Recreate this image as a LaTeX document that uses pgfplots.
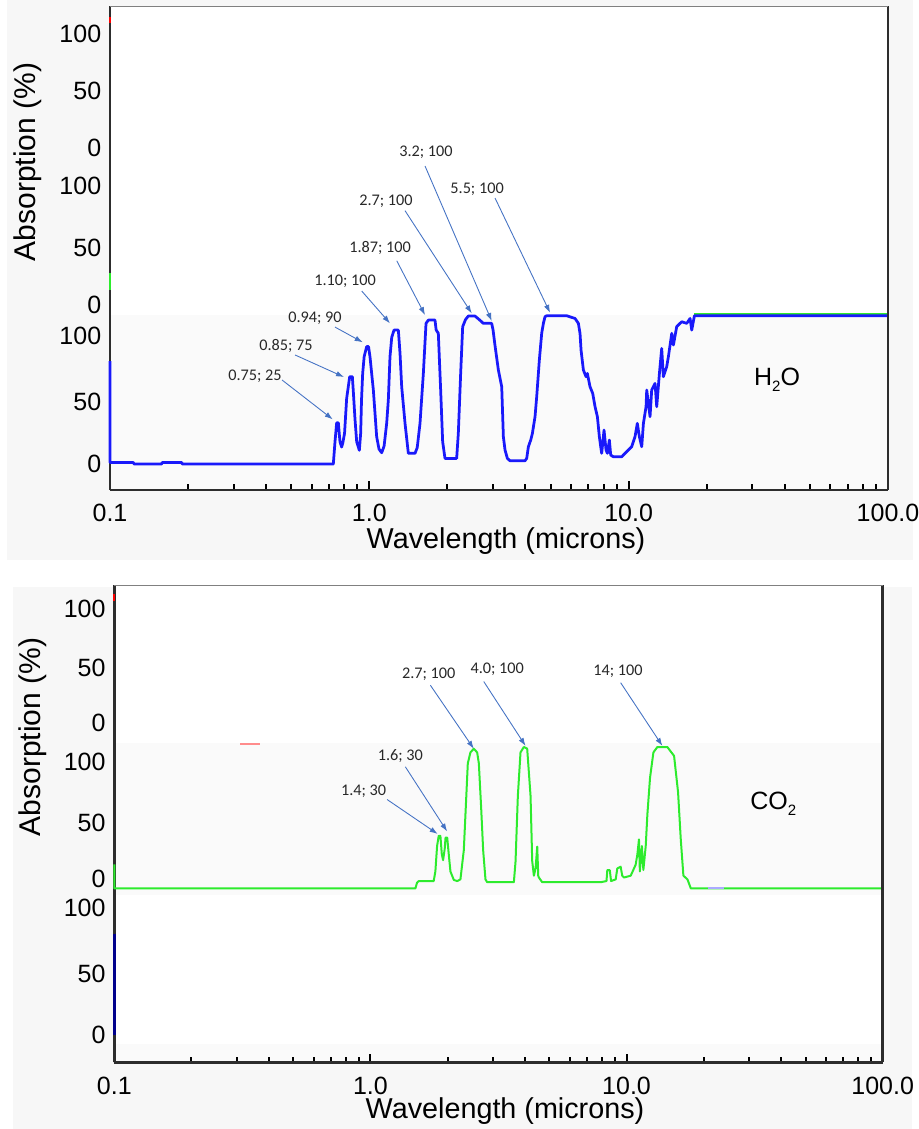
\documentclass[border=0pt]{standalone}
\usepackage{fontspec}
\setmainfont{Liberation Sans}
\newfontfamily\annofont{Carlito}
\usepackage{pgfplots}
\pgfplotsset{compat=1.18}
\usetikzlibrary{arrows.meta}

\definecolor{bgout}{RGB}{247,247,247}
\definecolor{bgband}{RGB}{250,250,250}
\definecolor{waterblue}{RGB}{25,25,250}
\definecolor{co2green}{RGB}{45,235,45}
\definecolor{arrowblue}{RGB}{68,114,196}
\definecolor{annotext}{RGB}{40,40,40}
\definecolor{axisgray}{RGB}{45,45,45}
\definecolor{navyline}{RGB}{0,0,140}
\definecolor{lavender}{RGB}{170,170,255}

\tikzset{
  anno/.style={font=\annofont\fontsize{6.5}{7.5}\selectfont, text=annotext, inner sep=0pt},
  arr/.style={arrowblue, line width=0.35pt, -{Latex[length=3.2pt,width=2.2pt]}},
}

\begin{document}
\begin{tikzpicture}
\useasboundingbox (0,0) rectangle (367.2pt,451.6pt);
\fill[white] (0,0) rectangle (367.2pt,451.6pt);
% panel backgrounds
\fill[bgout] (2.8pt,227.6pt) rectangle (365pt,451.6pt);
\fill[white] (44pt,255.6pt) rectangle (355.2pt,449.0pt);
\fill[bgband] (44pt,255.6pt) rectangle (355.2pt,325.6pt);
\fill[bgout] (5.2pt,0pt) rectangle (364.8pt,216.8pt);
\fill[white] (45.72pt,26.6pt) rectangle (353.08pt,217.44pt);
\fill[bgband] (45.72pt,93.4pt) rectangle (353.08pt,154.4pt);
\fill[bgband] (45.72pt,26.6pt) rectangle (353.08pt,33.8pt);

% ---------------- H2O panel ----------------
\begin{axis}[
  scale only axis, xmode=log, log basis x=10,
  xmin=0.1, xmax=100, clip=false,
  axis x line*=bottom, axis y line*=left,
  axis line style={axisgray, line width=1.1pt},
  xtick={0.1,1,10,100}, xticklabels={0.1,1.0,10.0,100.0},
  minor xtick={0.2,0.3,0.4,0.5,0.6,0.7,0.8,0.9,2,3,4,5,6,7,8,9,20,30,40,50,60,70,80,90},
  tick align=inside,
  major tick length=3.4pt, minor tick length=2.3pt,
  every tick/.style={black, line width=0.8pt},
  ytick style={draw=none},
  xticklabel style={font=\fontsize{10}{11}\selectfont, yshift=-2.2pt},
  yticklabel style={font=\fontsize{10}{12}\selectfont},
  at={(44pt,255.6pt)}, anchor=south west,
  width=311.2pt, height=193.44pt,
  ymin=-17.4, ymax=307.1,
  ytick={0,41.6,85.9,106.7,145.0,186.6,212.1,250.3,288.6},
  yticklabels={0,50,100,0,50,100,0,50,100},
]
\addplot[co2green, line width=0.9pt] coordinates {(17.93,100.9) (100,100.9)};
\addplot[co2green, line width=1.1pt] coordinates {(0.1,116.8) (0.1,128.2)};
\addplot[red, line width=0.8pt] coordinates {(0.1,296) (0.1,300)};
\addplot[waterblue, line width=1.1pt, line join=round] coordinates {
(0.1,69) (0.1,1) (0.123,1) (0.124,0) (0.158,0) (0.159,1) (0.189,1) (0.190,0)
(0.7264,0) (0.7373,15.0) (0.7484,27.7) (0.7595,27.7) (0.7706,15.0) (0.7822,11.4)
(0.790,14.0) (0.8025,20.6) (0.8176,44.0) (0.8298,52.0) (0.840,58.6) (0.8601,58.6)
(0.868,48.0) (0.8806,30.0) (0.8938,15.0) (0.9152,9.2) (0.926,20.6) (0.933,43.0)
(0.9426,60.8) (0.955,72.0) (0.9766,78.8) (0.993,78.8) (1.006,72.0) (1.021,60.8)
(1.0363,49.7) (1.0674,18.3) (1.090,10.0) (1.1159,7.6) (1.140,12.0) (1.1665,27.3)
(1.1838,43.0) (1.2014,72.0) (1.220,85.0) (1.2451,89.9) (1.2940,89.9) (1.3133,74.3)
(1.3329,51.9) (1.3730,27.3) (1.4140,7.2) (1.5004,7.2) (1.530,11.0) (1.5684,27.3)
(1.6156,60.8) (1.6544,94.4) (1.6890,96.6) (1.7917,96.6) (1.810,90.0) (1.8454,87.7)
(1.8842,49.7) (1.9179,15.0) (1.9581,3.8) (2.1716,3.8) (2.2038,20.6) (2.2500,60.8)
(2.2909,92.2) (2.350,97.0) (2.4087,99.3) (2.5556,99.3) (2.650,97.0) (2.7530,94.4)
(2.9634,94.4) (3.000,90.0) (3.050,80.0) (3.1450,63.1) (3.2397,51.9) (3.2879,18.3)
(3.337,9.4) (3.407,3.8) (3.488,2.2) (3.985,2.2) (4.044,3.8) (4.105,11.6) (4.191,16.1)
(4.254,20.6) (4.355,31.8) (4.420,45.2) (4.525,69.8) (4.620,87.7) (4.690,94.4)
(4.759,98.9) (4.831,99.5) (5.770,99.5) (6.212,97.7) (6.399,94.4) (6.494,87.7)
(6.553,76.5) (6.690,63.1) (6.851,58.6) (6.932,60.8) (7.097,51.9) (7.268,47.4)
(7.420,38.5) (7.576,31.8) (7.711,18.3) (7.803,11.6) (7.872,7.2) (8.036,22.8)
(8.181,9.4) (8.278,7.2) (8.426,16.1) (8.527,6.0) (8.734,4.9) (9.401,4.9) (9.685,7.2)
(9.975,9.4) (10.27,11.6) (10.58,18.3) (10.80,27.3) (11.00,18.3) (11.23,11.6)
(11.40,27.3) (11.67,38.5) (11.74,49.7) (12.09,31.8) (12.27,49.7) (12.64,54.1)
(12.83,38.5) (13.14,60.8) (13.41,77.6) (13.61,58.6) (14.02,65.3) (14.23,72.0)
(14.66,87.7) (14.88,79.9) (15.32,92.2) (16.02,95.5) (16.75,94.4) (17.25,97.7)
(17.51,89.9) (17.93,99.5) (100,99.5)
};
% annotations
\node[anno] at (axis cs:0.3624,59.1) {0.75; 25};
\node[anno] at (axis cs:0.4774,79.2) {0.85; 75};
\node[anno] at (axis cs:0.6174,98.0) {0.94; 90};
\node[anno] at (axis cs:0.806,122.8) {1.10; 100};
\node[anno] at (axis cs:1.0998,145.3) {1.87; 100};
\node[anno] at (axis cs:1.160,176.5) {2.7; 100};
\node[anno] at (axis cs:1.654,209.4) {3.2; 100};
\node[anno] at (axis cs:2.603,184.6) {5.5; 100};
\draw[arr] (axis cs:0.4607,56.4) -- (axis cs:0.7227,30.0);
\draw[arr] (axis cs:0.5171,73.2) -- (axis cs:0.7988,58.4);
\draw[arr] (axis cs:0.7375,91.9) -- (axis cs:0.9430,81.7);
\draw[arr] (axis cs:0.9348,116.1) -- (axis cs:1.2017,94.4);
\draw[arr] (axis cs:1.2757,136.4) -- (axis cs:1.6397,100.0);
\draw[arr] (axis cs:1.3733,170.0) -- (axis cs:2.483,101.1);
\draw[arr] (axis cs:1.6397,200.0) -- (axis cs:2.965,96.0);
\draw[arr] (axis cs:3.053,178.5) -- (axis cs:4.977,101.5);
\node[font=\fontsize{10}{12}\selectfont] at (axis cs:37.35,56.4)
  {H\raisebox{-0.45ex}{\fontsize{6}{6}\selectfont 2}O};
\draw[axisgray, line width=0.7pt] (rel axis cs:1,0) -- (rel axis cs:1,1);
\draw[axisgray, line width=1.1pt] (rel axis cs:1,0.69) -- (rel axis cs:1,0.98);
\draw[gray, line width=0.6pt] (rel axis cs:0,1) -- (rel axis cs:1,1);
\end{axis}

% ---------------- CO2 panel ----------------
\begin{axis}[
  scale only axis, xmode=log, log basis x=10,
  xmin=0.1, xmax=100, clip=false,
  axis x line*=bottom, axis y line*=left,
  axis line style={axisgray, line width=1.1pt},
  xtick={0.1,1,10,100}, xticklabels={0.1,1.0,10.0,100.0},
  minor xtick={0.2,0.3,0.4,0.5,0.6,0.7,0.8,0.9,2,3,4,5,6,7,8,9,20,30,40,50,60,70,80,90},
  tick align=inside,
  major tick length=3.4pt, minor tick length=2.3pt,
  every tick/.style={black, line width=0.8pt},
  ytick style={draw=none},
  xticklabel style={font=\fontsize{10}{11}\selectfont, yshift=-2.2pt},
  yticklabel style={font=\fontsize{10}{12}\selectfont},
  at={(45.72pt,26.6pt)}, anchor=south west,
  width=307.36pt, height=190.84pt,
  ymin=-123.1, ymax=214.3,
  ytick={-103.9,-60.3,-14.1,6.4,46.2,89.8,116.8,155.8,197.6},
  yticklabels={0,50,100,0,50,100,0,50,100},
]
\addplot[red, line width=0.8pt] coordinates {(0.1,203) (0.1,208)};
\addplot[red!45, line width=0.8pt] coordinates {(0.31,101.9) (0.371,101.9)};
\addplot[navyline, line width=1.1pt] coordinates {(0.1,-32) (0.1,-104)};
\addplot[co2green, line width=0.8pt, line join=round] coordinates {
(0.1,17) (0.1,0) (1.498,0) (1.52,4) (1.544,5.2) (1.766,5.2) (1.793,12) (1.821,30)
(1.848,37.2) (1.876,37.2) (1.90,24) (1.922,20) (1.950,28) (1.965,35.9) (1.995,35.9)
(2.02,25) (2.053,12) (2.116,6) (2.182,5.2) (2.246,6.4) (2.315,27) (2.350,52.6)
(2.400,88.5) (2.458,96.2) (2.533,98.8) (2.610,96.2) (2.650,88.5) (2.706,57) (2.755,27)
(2.813,6.4) (2.856,4.4) (3.631,4.4) (3.686,19) (3.764,65.5) (3.855,96.2) (3.972,100)
(4.093,98.8) (4.218,65.5) (4.282,19.3) (4.347,9.0) (4.413,14.1) (4.480,29.6) (4.52,9)
(4.547,7.7) (4.685,4.4) (6.817,4.4) (7.920,4.4) (8.35,5.2) (8.41,12.9) (8.60,12.9)
(8.70,5.2) (9.07,6.4) (9.20,14.1) (9.48,15.4) (9.62,9.0) (9.77,7.7) (10.38,9.0)
(10.85,16.7) (11.02,24) (11.18,34.7) (11.27,12) (11.48,30) (11.63,13) (11.88,30)
(12.06,52.6) (12.35,78.3) (12.73,96.2) (13.19,100) (14.43,100) (15.33,93.7) (15.89,68)
(16.28,34.7) (16.67,9) (17.29,6.4) (17.82,0) (100,0)
};
\addplot[lavender, line width=0.8pt] coordinates {(20.8,0) (24.1,0)};
\node[anno] at (axis cs:1.689,151.4) {2.7; 100};
\node[anno] at (axis cs:1.309,93.6) {1.6; 30};
\node[anno] at (axis cs:0.9406,68.8) {1.4; 30};
\node[anno] at (axis cs:3.125,155.2) {4.0; 100};
\node[anno] at (axis cs:9.26,153.5) {14; 100};
\draw[arr] (axis cs:1.714,143.7) -- (axis cs:2.532,98.8);
\draw[arr] (axis cs:1.369,86.0) -- (axis cs:1.993,40.3);
\draw[arr] (axis cs:1.161,62.9) -- (axis cs:1.831,38.5);
\draw[arr] (axis cs:2.77,146.3) -- (axis cs:4.033,100.8);
\draw[arr] (axis cs:9.48,145.5) -- (axis cs:13.8,100.8);
\node[font=\fontsize{10}{12}\selectfont] at (axis cs:37.4,59.8)
  {CO\raisebox{-0.45ex}{\fontsize{6}{6}\selectfont 2}};
\draw[axisgray, line width=1.1pt] (rel axis cs:1,0) -- (rel axis cs:1,1);
\draw[gray, line width=0.6pt] (rel axis cs:0,1) -- (rel axis cs:1,1);
\end{axis}

% axis titles
\node[rotate=90, font=\fontsize{12}{14}\selectfont] at (11.2pt,386.8pt) {Absorption (\%)};
\node[font=\fontsize{11.5}{13}\selectfont] at (202.4pt,235.2pt) {Wavelength (microns)};
\node[rotate=90, font=\fontsize{12}{14}\selectfont] at (13.2pt,156.8pt) {Absorption (\%)};
\node[font=\fontsize{11.5}{13}\selectfont] at (202pt,7.0pt) {Wavelength (microns)};
\end{tikzpicture}
\end{document}
